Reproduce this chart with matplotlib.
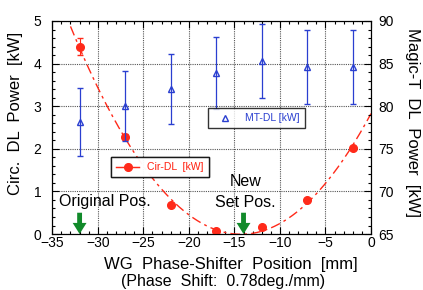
import numpy as np
import matplotlib
matplotlib.use("Agg")
import matplotlib.pyplot as plt
from matplotlib.ticker import MultipleLocator

plt.rcParams['font.family'] = ['Liberation Sans', 'DejaVu Sans']

# phase-shifter positions [mm]
position = [-32, -27, -22, -17, -12, -7, -2]
# circulator dummy-load power [kW]
cir_dl = [4.40, 2.28, 0.68, 0.08, 0.16, 0.81, 2.01]
cir_err = [0.20, 0.06, 0.0, 0.0, 0.0, 0.0, 0.0]
# magic-T dummy-load power [kW]
mt_dl = [78.1, 80.0, 82.0, 83.9, 85.3, 84.6, 84.6]
mt_err = [4.0, 4.1, 4.1, 4.2, 4.3, 4.3, 4.3]

red = "#ff2a1a"
blue = "#2a3fd0"
green = "#118a2a"

fig = plt.figure(figsize=(4.23, 2.90), dpi=100)
ax = fig.add_axes([0.1236, 0.193, 0.7535, 0.7346])
ax2 = ax.twinx()

# fit curve through the circulator data
coef = np.polyfit(position, cir_dl, 2)
xf = np.linspace(-33, 0, 200)
ax.plot(xf, np.polyval(coef, xf), color=red, lw=1, ls=(0, (7, 3, 2, 3)), zorder=3)

ax.errorbar(position, cir_dl, yerr=cir_err, fmt="o", color=red, ms=5.5,
            capsize=2, elinewidth=0.8, zorder=4)
ax2.errorbar(position, mt_dl, yerr=mt_err, fmt="^", mfc="none", mec=blue,
             color=blue, ms=4.5, mew=1, capsize=2, elinewidth=0.9, zorder=4)

ax.set_xlim(-35, 0)
ax.set_ylim(0, 5)
ax2.set_ylim(65, 90)

ax.xaxis.set_major_locator(MultipleLocator(5))
ax.xaxis.set_minor_locator(MultipleLocator(1))
ax.yaxis.set_major_locator(MultipleLocator(1))
ax.yaxis.set_minor_locator(MultipleLocator(0.2))
ax2.yaxis.set_major_locator(MultipleLocator(5))
ax2.yaxis.set_minor_locator(MultipleLocator(1))

ax.tick_params(which="both", direction="in", top=True, labelsize=10, width=0.8)
ax.tick_params(which="major", length=5)
ax.tick_params(which="minor", length=2.5)
ax.tick_params(axis="x", pad=1.5)
ax.tick_params(axis="y", pad=8)
ax2.tick_params(which="both", direction="in", labelsize=10, width=0.8, pad=5)
ax2.tick_params(which="major", length=5)
ax2.tick_params(which="minor", length=2.5)

ax.grid(True, which="major", color="#555555", ls=(0, (1, 1)), lw=0.8)

# axis labels placed to match the original layout
fig.text(231 / 423, 1 - 264 / 290, "WG  Phase-Shifter  Position  [mm]",
         fontsize=12, ha="center", va="center")
fig.text(223 / 423, 1 - 281.5 / 290, "(Phase  Shift:  0.78deg./mm)",
         fontsize=11.5, ha="center", va="center")
fig.text(16 / 423, 1 - 113 / 290, "Circ.  DL  Power  [kW]",
         fontsize=12, rotation=90, ha="center", va="center")
fig.text(412 / 423, 1 - 123 / 290, "Magic-T  DL  Power  [kW]",
         fontsize=12, rotation=270, ha="center", va="center")

# legends
h1, = ax.plot([], [], "o-", color=red, ms=5.5, lw=1)
leg1 = ax.legend([h1], ["Cir-DL  [kW]"], loc="lower left",
                 bbox_to_anchor=(0.184, 0.266), borderaxespad=0, fancybox=False,
                 edgecolor="black", fontsize=7.5, handlelength=2.2,
                 labelcolor=red, borderpad=0.5)
leg1.get_frame().set_linewidth(1)
ax.add_artist(leg1)
h2, = ax2.plot([], [], "^", mfc="none", mec=blue, ms=4.5, mew=1)
leg2 = ax2.legend([h2], ["MT-DL [kW]"], loc="lower left",
                  bbox_to_anchor=(0.49, 0.496), borderaxespad=0, fancybox=False,
                  edgecolor="black", fontsize=7.5, handlelength=2.2,
                  labelcolor=blue, borderpad=0.5)
leg2.get_frame().set_linewidth(1)

# annotations
ax.text(-29.2, 0.77, "Original Pos.", fontsize=11.5, ha="center", va="center")
ax.text(-13.8, 0.98, "New\nSet Pos.", fontsize=11.5, ha="center", va="center",
        linespacing=1.5)
for xa in [-32, -14]:
    ax.annotate("", xy=(xa, 0.0), xytext=(xa, 0.5),
                arrowprops=dict(facecolor=green, edgecolor="none", width=3.5,
                                headwidth=10, headlength=8, shrink=0),
                annotation_clip=False)

fig.savefig("out.png", dpi=100)
